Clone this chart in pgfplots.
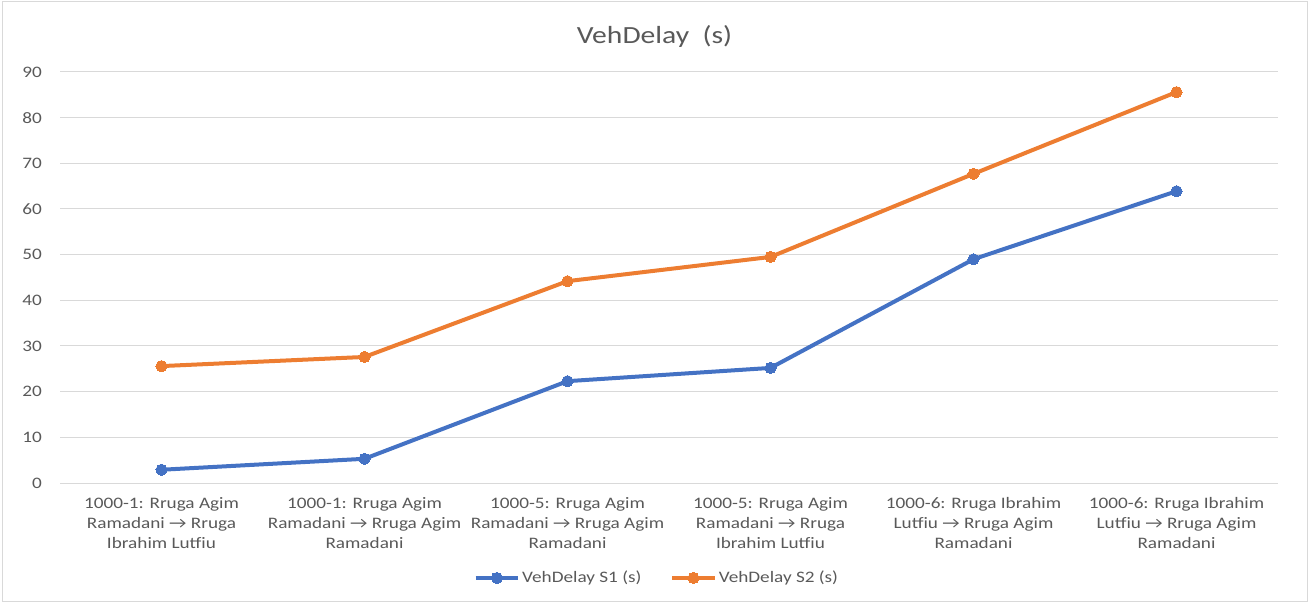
\documentclass[border=0pt]{standalone}
\usepackage{pgfplots}
\pgfplotsset{compat=1.18}
\usepackage{fontspec}
\setmainfont{Carlito}[FakeStretch=1.2]
\definecolor{sblue}{HTML}{4472C4}
\definecolor{sorange}{HTML}{ED7D31}
\definecolor{txt}{HTML}{595959}
\definecolor{grd}{HTML}{D9D9D9}
\begin{document}
\begin{tikzpicture}
\path[use as bounding box] (0,0) rectangle (981.75pt,452.25pt);
\draw[grd, line width=0.75pt] (1.5pt,1.5pt) rectangle (980.25pt,450.75pt);
\node[text=txt, font=\fontsize{18.5}{21}\selectfont] at (490.9pt,425pt) {VehDelay\ \ (s)};
\begin{axis}[
  at={(45pt,90pt)}, anchor=south west,
  scale only axis, width=913.5pt, height=308.25pt,
  xmin=-0.5, xmax=5.5, ymin=0, ymax=90,
  ytick={0,10,...,90},
  xtick={0,...,5},
  xticklabels={
    {1000-1: Rruga Agim\\Ramadani → Rruga\\Ibrahim Lutfiu},
    {1000-1: Rruga Agim\\Ramadani → Rruga Agim\\Ramadani},
    {1000-5: Rruga Agim\\Ramadani → Rruga Agim\\Ramadani},
    {1000-5: Rruga Agim\\Ramadani → Rruga\\Ibrahim Lutfiu},
    {1000-6: Rruga Ibrahim\\Lutfiu → Rruga Agim\\Ramadani},
    {1000-6: Rruga Ibrahim\\Lutfiu → Rruga Agim\\Ramadani}},
  xticklabel style={align=center, font=\fontsize{12}{15}\selectfont, text=txt, yshift=-7pt},
  yticklabel style={font=\fontsize{12}{14}\selectfont, text=txt, xshift=-10pt},
  /pgf/number format/assume math mode=true,
  axis line style={draw=none},
  major tick length=0pt,
  ymajorgrids, grid style={grd, line width=0.75pt},
  legend columns=2,
  legend style={at={(0.49,-0.231)}, anchor=center, draw=none, fill=none,
    font=\fontsize{12}{14}\selectfont, text=txt,
    /tikz/every odd column/.append style={column sep=0pt},
    /tikz/every even column/.append style={column sep=20pt},
    nodes={inner xsep=1.5pt}},
  legend image code/.code={\draw[#1, mark repeat=2, mark phase=2] plot coordinates {(0pt,0pt) (16pt,0pt) (32pt,0pt)};},
  every axis plot/.append style={line width=3pt, mark=*, mark size=4.2pt},
]
\draw[grd, line width=0.75pt] (axis cs:-0.5,0) -- (axis cs:5.5,0);
\addplot[color=sblue, mark options={fill=sblue, draw=sblue, line width=0pt}] coordinates {(0,2.9) (1,5.3) (2,22.3) (3,25.2) (4,49.0) (5,63.9)};
\addlegendentry{VehDelay S1 (s)}
\addplot[color=sorange, mark options={fill=sorange, draw=sorange, line width=0pt}] coordinates {(0,25.6) (1,27.6) (2,44.2) (3,49.5) (4,67.7) (5,85.6)};
\addlegendentry{VehDelay S2 (s)}
\end{axis}
\end{tikzpicture}
\end{document}
